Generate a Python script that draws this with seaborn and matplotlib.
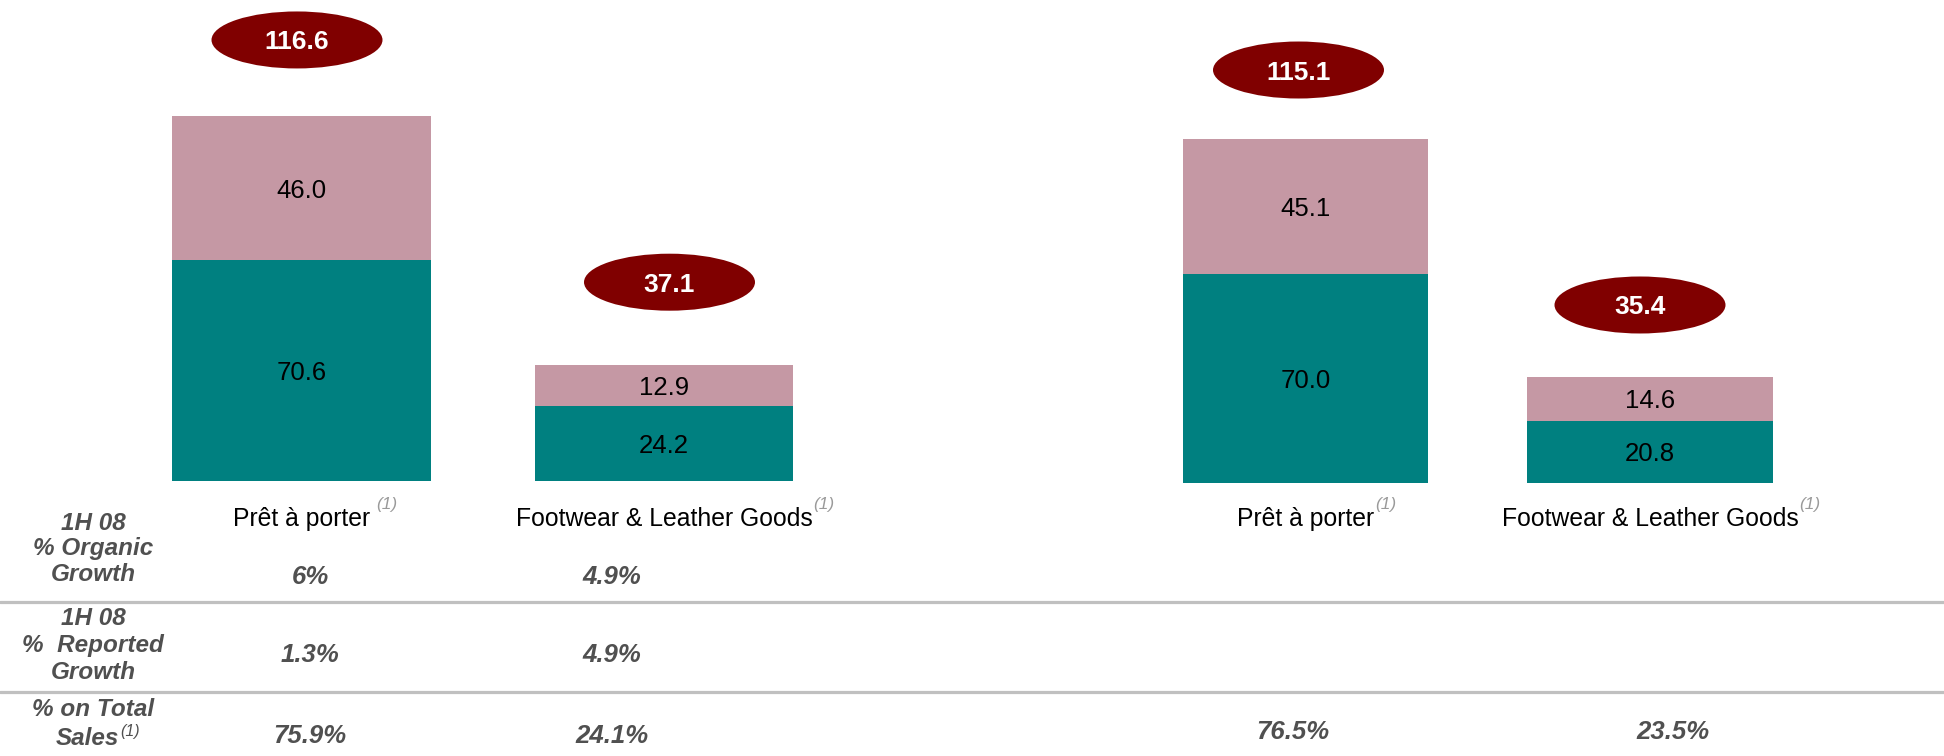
import matplotlib
matplotlib.use("Agg")
import matplotlib.pyplot as plt
from matplotlib.patches import Ellipse
from matplotlib.lines import Line2D
import pandas as pd
import seaborn as sns

# ---------------- data ----------------
categories = ["Prêt à porter", "Footwear & Leather Goods"]

left_lower = [70.6, 24.2]
left_upper = [46.0, 12.9]
right_lower = [70.0, 20.8]
right_upper = [45.1, 14.6]

header_organic = ["1H 08", "% Organic", "Growth"]
header_reported = ["1H 08", "%  Reported", "Growth"]
header_share = ["% on Total", "Sales"]

organic_left = ["6%", "4.9%"]
reported_left = ["1.3%", "4.9%"]
share_left = ["75.9%", "24.1%"]
share_right = ["76.5%", "23.5%"]

note_mark = "(1)"

# ---------------- style ----------------
TEAL = "#008080"
ROSE = "#C598A4"
MAROON = "#800000"
TABLE_GREY = "#505050"
NOTE_GREY = "#9A9A9A"
RULE_GREY = "#C0C0C0"

sns.set_theme(style="white")
plt.rcParams["font.family"] = ["Liberation Sans", "DejaVu Sans"]

W, H = 1944, 756
fig = plt.figure(figsize=(W / 100, H / 100), dpi=100)
fig.patch.set_facecolor("white")


def fx(px):
    return px / W


def fy(py_top):
    return 1 - py_top / H


def panel_axes(x0, x1, baseline):
    return fig.add_axes([fx(x0), fy(baseline), (x1 - x0) / W, baseline / H])


BAR_W = 0.714

ax_left = panel_axes(120.25, 845.25, 481.5)
ax_right = panel_axes(1133.25, 1822.25, 482.7)


def draw_panel(ax, lower, upper, ymax):
    df = pd.DataFrame({"category": categories, "lower": lower, "upper": upper})
    df["total"] = df["lower"] + df["upper"]
    sns.barplot(data=df, x="category", y="total", color=ROSE, saturation=1,
                width=BAR_W, linewidth=0, ax=ax)
    sns.barplot(data=df, x="category", y="lower", color=TEAL, saturation=1,
                width=BAR_W, linewidth=0, ax=ax)
    ax.set_xlim(-0.5, 1.5)
    ax.set_ylim(0, ymax)
    ax.axis("off")
    for i, row in df.iterrows():
        ax.text(i, row["lower"] / 2, f"{row['lower']:.1f}", ha="center",
                va="center_baseline", fontsize=18.5, color="black")
        ax.text(i, row["lower"] + row["upper"] / 2, f"{row['upper']:.1f}",
                ha="center", va="center_baseline", fontsize=18.5, color="black")
    return df


df_left = draw_panel(ax_left, left_lower, left_upper, 481.5 / 3.135)
df_right = draw_panel(ax_right, right_lower, right_upper, 482.7 / 2.986)

# total badges: ellipse above each stack (lift and sideways shift in pixels)
badge_lift = [[76, 83], [69, 72]]
badge_shift = [[-4.5, 5.5], [-7, -10]]
BADGE_W, BADGE_H = 171, 57

renderer = fig.canvas.get_renderer()
label_gap = [[6, 1], [1, 1]]

for p, (ax, df) in enumerate([(ax_left, df_left), (ax_right, df_right)]):
    for i, row in df.iterrows():
        dx, dy = ax.transData.transform((i, row["total"]))
        cx = dx + badge_shift[p][i]
        cy = dy + badge_lift[p][i]
        fig.add_artist(Ellipse((cx / W, cy / H), BADGE_W / W, BADGE_H / H,
                               transform=fig.transFigure, facecolor=MAROON,
                               edgecolor="none"))
        fig.text(cx / W, cy / H, f"{row['total']:.1f}", ha="center",
                 va="center_baseline", fontsize=19, fontweight="bold",
                 color="white")

        # category label under the bar, with its footnote mark
        bx, _ = ax.transData.transform((i, 0))
        t = fig.text(bx / W, fy(526), row["category"], ha="center",
                     va="baseline", fontsize=17.8, color="black")
        bb = t.get_window_extent(renderer)
        fig.text((bb.x1 + label_gap[p][i]) / W, fy(509), note_mark,
                 ha="left", va="baseline", fontsize=12.5, style="italic",
                 color=NOTE_GREY)

# table rules
for y in (601.7, 691.7):
    fig.add_artist(Line2D([0, 1], [fy(y), fy(y)], transform=fig.transFigure,
                          color=RULE_GREY, linewidth=2.3))

# row headers
HEAD_X = 93
head_kw = dict(ha="center", va="baseline", fontsize=17.5, fontweight="bold",
               style="italic", color=TABLE_GREY)
for line, y in zip(header_organic, [530, 555.5, 581]):
    fig.text(fx(HEAD_X), fy(y), line, **head_kw)
for line, y in zip(header_reported, [625, 652, 679]):
    fig.text(fx(HEAD_X), fy(y), line, **head_kw)
t_top = fig.text(fx(HEAD_X), fy(716.5), header_share[0], **head_kw)
t_sales = fig.text(fx(HEAD_X - 6), fy(745), header_share[1], **head_kw)
sb = t_sales.get_window_extent(renderer)
fig.text((sb.x1 + 2) / W, fy(736), note_mark, ha="left", va="baseline",
         fontsize=11.5, style="italic", color=TABLE_GREY)

# table values
val_kw = dict(ha="center", va="baseline", fontsize=18.5, fontweight="bold",
              style="italic", color=TABLE_GREY)
left_cols = [310, 612]
right_cols = [1293, 1672.5]
for x, v in zip(left_cols, organic_left):
    fig.text(fx(x), fy(583.5), v, **val_kw)
for x, v in zip(left_cols, reported_left):
    fig.text(fx(x), fy(661.7), v, **val_kw)
for x, v in zip(left_cols, share_left):
    fig.text(fx(x), fy(743), v, **val_kw)
for x, v in zip(right_cols, share_right):
    fig.text(fx(x), fy(739), v, **val_kw)

fig.savefig("out.png", dpi=100, facecolor="white")
